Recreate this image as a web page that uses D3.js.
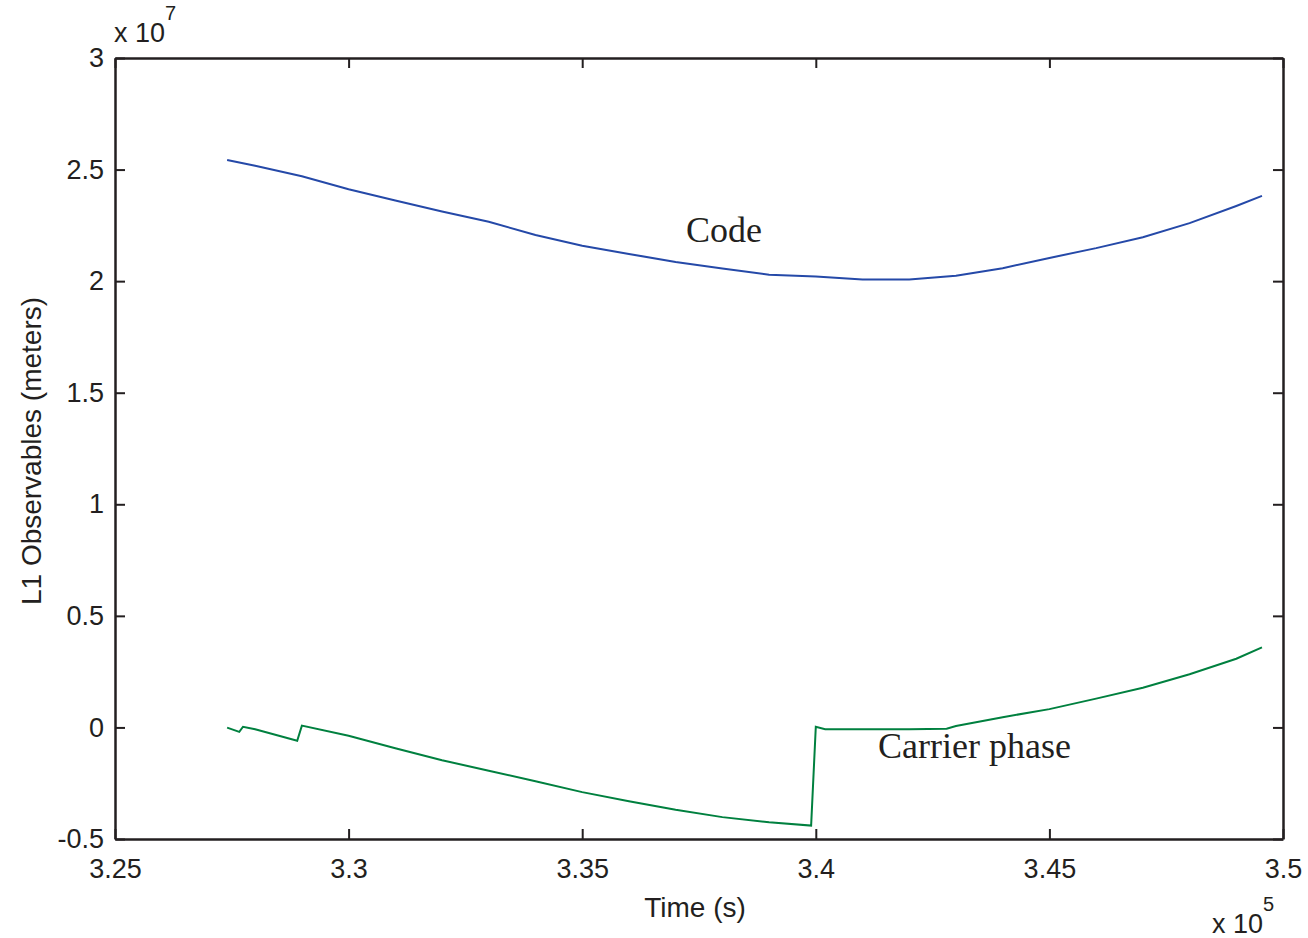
<html>
<head>
<script src="https://d3js.org/d3.v7.min.js"></script>
<style>
  body { margin: 0; background: #fff; }
</style>
</head>
<body>
<svg width="1308" height="938"></svg>
<script>
// time axis (s) and observables (m)
var codeTime = [327400, 328000, 329000, 330000, 331000, 332000, 333000, 334000, 335000, 336000, 337000, 338000,
                339000, 340000, 341000, 342000, 343000, 344000, 345000, 346000, 347000, 348000, 349000, 349550];
var codeRange = [25430000, 25170000, 24700000, 24120000, 23610000, 23120000, 22660000, 22070000, 21590000, 21220000,
                 20860000, 20570000, 20290000, 20210000, 20070000, 20070000, 20240000, 20580000, 21040000, 21480000,
                 21970000, 22600000, 23370000, 23820000];

var phaseTime = [327400, 327660, 327740, 328000, 328900, 329000, 330000, 331000, 332000, 333000, 334000, 335000,
                 336000, 337000, 338000, 339000, 339900, 340000, 340200, 341000, 342000, 342800, 343000, 344000,
                 345000, 346000, 347000, 348000, 349000, 349550];
var phaseRange = [-10000, -200000, 30000, -80000, -600000, 80000, -370000, -930000, -1470000, -1940000, -2410000,
                  -2900000, -3310000, -3690000, -4020000, -4250000, -4400000, 30000, -80000, -80000, -80000,
                  -60000, 60000, 460000, 820000, 1290000, 1780000, 2380000, 3080000, 3590000];

var xTicks = [325000, 330000, 335000, 340000, 345000, 350000];
var yTicks = [-5000000, 0, 5000000, 10000000, 15000000, 20000000, 25000000, 30000000];

var margin = {left: 115, top: 58};
var chartWidth = 1168;
var chartHeight = 781;
var axisColor = '#231f20';
var font = 'Liberation Sans, Arial, sans-serif';

var svg = d3.select('svg');
svg.append('rect').attr('width', 1308).attr('height', 938).attr('fill', '#fff');

var x = d3.scaleLinear().domain([325000, 350000]).range([0, chartWidth]);
var y = d3.scaleLinear().domain([-5000000, 30000000]).range([chartHeight, 0]);

var fmtX = function (d) { return String(+(d / 1e5).toFixed(2)); };
var fmtY = function (d) { return String(+(d / 1e7).toFixed(2)); };

var g = svg.append('g').attr('transform', 'translate(' + margin.left + ',' + margin.top + ')');

// lines
var line = d3.line()
  .x(function (d) { return x(d[0]); })
  .y(function (d) { return y(d[1]); });

g.append('path')
  .datum(codeTime.map(function (t, i) { return [t, codeRange[i]]; }))
  .attr('d', line)
  .style('fill', 'none')
  .style('stroke', '#2549a8')
  .style('stroke-width', 2);

g.append('path')
  .datum(phaseTime.map(function (t, i) { return [t, phaseRange[i]]; }))
  .attr('d', line)
  .style('fill', 'none')
  .style('stroke', '#00803f')
  .style('stroke-width', 2);

// axes, ticks pointing inward on all four sides
function styleAxis(sel) {
  sel.selectAll('path').style('stroke', axisColor).style('stroke-width', 2.5);
  sel.selectAll('line').style('stroke', axisColor).style('stroke-width', 2);
  sel.selectAll('text').style('font-family', font).style('font-size', '27px').style('fill', axisColor);
}

g.append('g')
  .attr('transform', 'translate(0,' + chartHeight + ')')
  .call(d3.axisBottom(x).tickValues(xTicks).tickFormat(fmtX).tickSizeInner(-10).tickSizeOuter(0).tickPadding(20))
  .call(styleAxis);

g.append('g')
  .call(d3.axisTop(x).tickValues(xTicks).tickFormat('').tickSizeInner(-10).tickSizeOuter(0))
  .call(styleAxis);

g.append('g')
  .call(d3.axisLeft(y).tickValues(yTicks).tickFormat(fmtY).tickSizeInner(-10).tickSizeOuter(0).tickPadding(11))
  .call(styleAxis);

g.append('g')
  .attr('transform', 'translate(' + chartWidth + ',0)')
  .call(d3.axisRight(y).tickValues(yTicks).tickFormat('').tickSizeInner(-10).tickSizeOuter(0))
  .call(styleAxis);

// axis titles
svg.append('text')
  .attr('x', 695).attr('y', 917)
  .attr('text-anchor', 'middle')
  .style('font-family', font).style('font-size', '28px').style('fill', axisColor)
  .text('Time (s)');

svg.append('text')
  .attr('transform', 'translate(41,451)rotate(-90)')
  .attr('text-anchor', 'middle')
  .style('font-family', font).style('font-size', '28px').style('fill', axisColor)
  .text('L1 Observables (meters)');

// exponent labels
var expTop = svg.append('text')
  .attr('x', 114).attr('y', 42)
  .style('font-family', font).style('font-size', '27px').style('fill', axisColor);
expTop.append('tspan').text('x 10');
expTop.append('tspan').attr('dy', -22).style('font-size', '20px').text('7');

var expBottom = svg.append('text')
  .attr('x', 1212).attr('y', 933)
  .style('font-family', font).style('font-size', '27px').style('fill', axisColor);
expBottom.append('tspan').text('x 10');
expBottom.append('tspan').attr('dy', -22).style('font-size', '20px').text('5');

// curve labels
svg.append('text')
  .attr('x', 686).attr('y', 242)
  .style('font-family', 'Liberation Serif, Times New Roman, serif').style('font-size', '36px').style('fill', axisColor)
  .text('Code');

svg.append('text')
  .attr('x', 878).attr('y', 758)
  .style('font-family', 'Liberation Serif, Times New Roman, serif').style('font-size', '36px').style('fill', axisColor)
  .text('Carrier phase');
</script>
</body>
</html>
